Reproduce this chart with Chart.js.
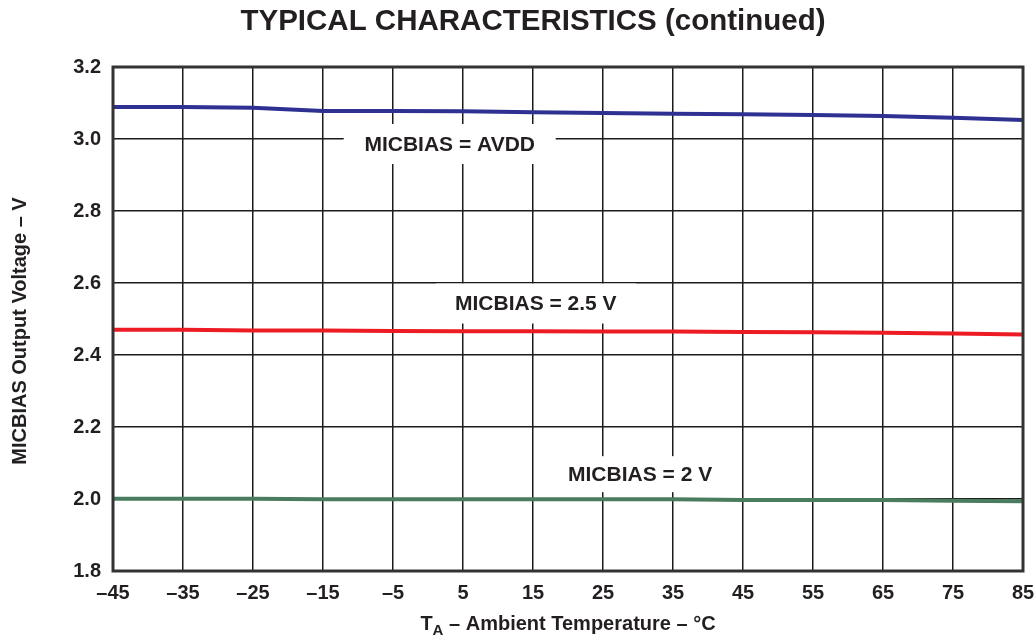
<!DOCTYPE html>
<html>
<head>
<meta charset="utf-8">
<script src="https://cdn.jsdelivr.net/npm/chart.js@4/dist/chart.umd.min.js"></script>
<style>
  html, body { margin: 0; padding: 0; background: #ffffff; }
  #wrap { width: 1036px; height: 638px; }
</style>
</head>
<body>
<div id="wrap"><canvas id="c" width="1036" height="638"></canvas></div>
<script>
// ---- data ----
const temperatures = [-45, -35, -25, -15, -5, 5, 15, 25, 35, 45, 55, 65, 75, 85];
const micbiasAvdd = [3.089, 3.089, 3.087, 3.078, 3.078, 3.077, 3.074, 3.072, 3.070, 3.069, 3.067, 3.064, 3.059, 3.053];
const micbias25 = [2.470, 2.470, 2.468, 2.468, 2.467, 2.466, 2.466, 2.465, 2.465, 2.464, 2.463, 2.462, 2.460, 2.457];
const micbias2 = [2.001, 2.001, 2.001, 1.999, 1.999, 1.999, 1.999, 1.999, 1.999, 1.997, 1.997, 1.997, 1.995, 1.994];
const seriesNames = ['MICBIAS = AVDD', 'MICBIAS = 2.5 V', 'MICBIAS = 2 V'];
const labelTemps = [3.1, 15.4, 30.3];
const labelVolts = [2.986, 2.543, 2.069];
const xTicks = [-45, -35, -25, -15, -5, 5, 15, 25, 35, 45, 55, 65, 75, 85];
const yTicks = [1.8, 2.0, 2.2, 2.4, 2.6, 2.8, 3.0, 3.2];
const chartTitle = 'TYPICAL CHARACTERISTICS (continued)';
const yTitle = 'MICBIAS Output Voltage \u2013 V';

const FONT = "'Liberation Sans', Arial, Helvetica, sans-serif";
const INK = '#231f20';

function pts(vals) { return temperatures.map((t, i) => ({ x: t, y: vals[i] })); }

const labelBoxes = [
  { w: 212, h: 40 },
  { w: 200, h: 40 },
  { w: 186, h: 36 }
];

const annotPlugin = {
  id: 'annot',
  afterDatasetsDraw(chart) {
    const { ctx, chartArea, scales } = chart;
    ctx.save();
    // chart title
    ctx.font = 'bold 29.5px ' + FONT;
    ctx.fillStyle = INK;
    ctx.textAlign = 'center';
    ctx.textBaseline = 'middle';
    ctx.fillText(chartTitle, 533, 22);
    // series labels
    ctx.font = 'bold 21px ' + FONT;
    seriesNames.forEach((name, i) => {
      const cx = scales.x.getPixelForValue(labelTemps[i]);
      const cy = scales.y.getPixelForValue(labelVolts[i]);
      const b = labelBoxes[i];
      ctx.fillStyle = '#ffffff';
      ctx.fillRect(cx - b.w / 2, cy - b.h / 2, b.w, b.h);
      ctx.fillStyle = INK;
      ctx.fillText(name, cx, cy + 1);
    });
    ctx.strokeStyle = '#333333';
    ctx.lineWidth = 3;
    ctx.strokeRect(chartArea.left, chartArea.top, chartArea.right - chartArea.left, chartArea.bottom - chartArea.top);
    // y axis title
    ctx.save();
    ctx.translate(20, (chartArea.top + chartArea.bottom) / 2 + 12);
    ctx.rotate(-Math.PI / 2);
    ctx.font = 'bold 20px ' + FONT;
    ctx.fillStyle = INK;
    ctx.textAlign = 'center';
    ctx.textBaseline = 'middle';
    ctx.fillText(yTitle, 0, 0);
    ctx.restore();
    // x axis title with subscript
    const midX = (chartArea.left + chartArea.right) / 2;
    const y0 = 624;
    ctx.fillStyle = INK;
    ctx.textBaseline = 'middle';
    ctx.textAlign = 'left';
    const mainFont = 'bold 20px ' + FONT;
    const subFont = 'bold 15px ' + FONT;
    const rest = ' \u2013 Ambient Temperature \u2013 \u00B0C';
    ctx.font = mainFont;
    const wT = ctx.measureText('T').width;
    const wRest = ctx.measureText(rest).width;
    ctx.font = subFont;
    const wA = ctx.measureText('A').width;
    let x = midX - (wT + wA + wRest) / 2;
    ctx.font = mainFont;
    ctx.fillText('T', x, y0);
    x += wT;
    ctx.font = subFont;
    ctx.fillText('A', x, y0 + 7);
    x += wA;
    ctx.font = mainFont;
    ctx.fillText(rest, x, y0);
    ctx.restore();
  }
};

new Chart(document.getElementById('c'), {
  type: 'line',
  data: {
    datasets: [
      { label: seriesNames[0], data: pts(micbiasAvdd), borderColor: '#2e3192', borderWidth: 4 },
      { label: seriesNames[1], data: pts(micbias25), borderColor: '#ed1c24', borderWidth: 4 },
      { label: seriesNames[2], data: pts(micbias2), borderColor: '#4a7c5f', borderWidth: 4 }
    ]
  },
  options: {
    responsive: false,
    animation: false,
    devicePixelRatio: 1,
    elements: { point: { radius: 0 }, line: { tension: 0, borderCapStyle: 'butt' } },
    layout: { padding: { left: 0, right: 13, top: 67, bottom: 0 } },
    plugins: {
      legend: { display: false },
      tooltip: { enabled: false },
      title: { display: false }
    },
    scales: {
      x: {
        type: 'linear',
        min: -45, max: 85,
        afterBuildTicks(scale) { scale.ticks = xTicks.map(v => ({ value: v })); },
        afterFit(scale) { scale.height = 67; scale.paddingLeft = 0; scale.paddingRight = 0; },
        grid: { color: '#1a1a1a', lineWidth: 1.5, drawTicks: false },
        border: { display: false },
        ticks: {
          padding: 10,
          color: INK,
          font: { family: FONT, size: 20, weight: 'bold' },
          callback: v => String(v).replace('-', '\u2013')
        },
        title: { display: false }
      },
      y: {
        type: 'linear',
        min: 1.8, max: 3.2,
        afterBuildTicks(scale) { scale.ticks = yTicks.map(v => ({ value: v })); },
        afterFit(scale) { scale.width = 113; scale.paddingTop = 0; scale.paddingBottom = 0; },
        grid: { color: '#1a1a1a', lineWidth: 1.5, drawTicks: false },
        border: { display: false },
        ticks: {
          padding: 12,
          color: INK,
          font: { family: FONT, size: 20, weight: 'bold' },
          callback: v => Number(v).toFixed(1)
        },
        title: { display: false }
      }
    }
  },
  plugins: [annotPlugin]
});
</script>
</body>
</html>
